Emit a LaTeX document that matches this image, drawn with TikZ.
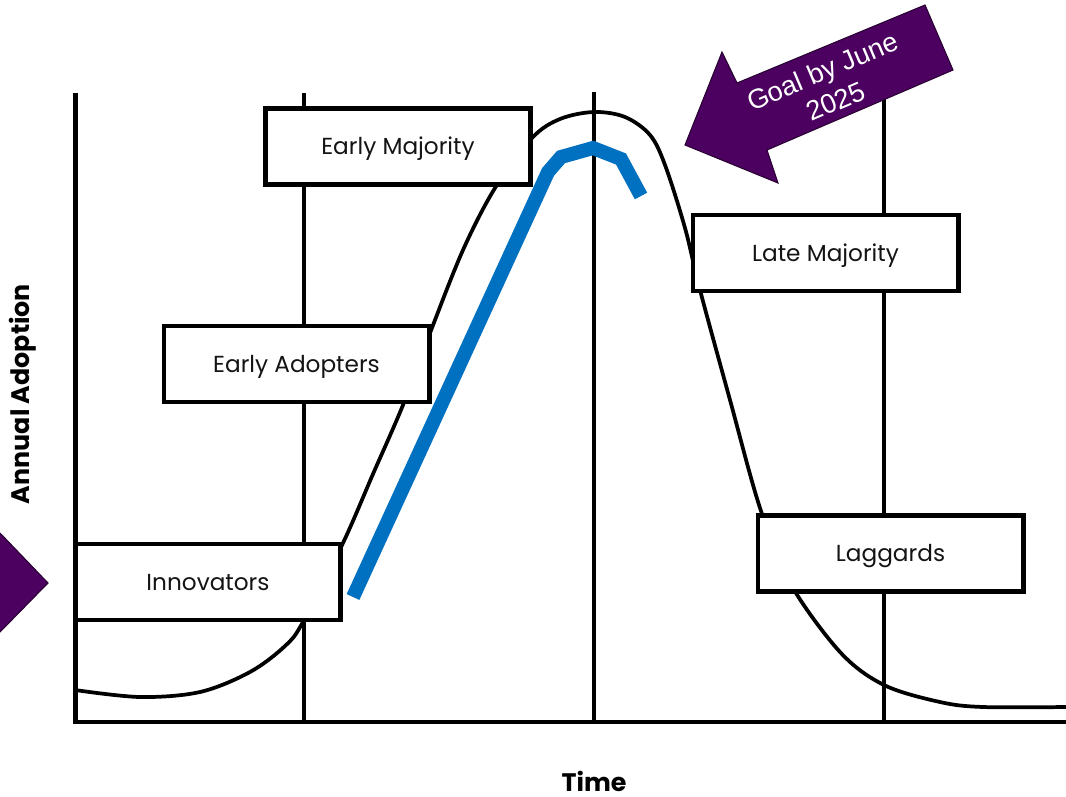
\documentclass[tikz,border=0pt]{standalone}
\usepackage{fontspec}
\setmainfont{Poppins}
\newfontfamily\arialfont{Liberation Sans}
\usepackage{tikz}
\usetikzlibrary{calc,positioning}
\definecolor{goalpurple}{RGB}{76,0,96}
\definecolor{goaledge}{RGB}{40,0,50}
\definecolor{trendblue}{RGB}{0,112,192}
\definecolor{labelgrey}{RGB}{20,20,20}
\tikzstyle{stage}     = [draw=black, line width=3.5pt, fill=white, minimum width=199pt, minimum height=57pt, inner sep=0pt, text height=12.2pt, text depth=0pt, text=labelgrey, font=\fontsize{17.4}{20}\selectfont]
\tikzstyle{gridline}  = [line width=3pt]
\tikzstyle{axisline}  = [line width=3.2pt]
\tikzstyle{bellcurve} = [line width=2.8pt]
\tikzstyle{trend}     = [line width=10.5pt, draw=trendblue]
\tikzstyle{goal}      = [fill=goalpurple, draw=goaledge, line width=0.8pt]
\tikzstyle{axislabel} = [inner sep=0pt, font=\bfseries\fontsize{19}{22}\selectfont]

\begin{document}
\begin{tikzpicture}[x=0.75pt, y=-0.75pt]
        \useasboundingbox (0,0) rectangle (1066,796);
        \draw[gridline] (303.5,93) -- (303.5,722);
        \draw[gridline] (593.5,92) -- (593.5,722);
        \draw[gridline] (884,92) -- (884,722);
        \draw[axisline] (75.5,93) -- (75.5,722) -- (1066,722);

        \draw[bellcurve] plot[smooth, tension=0.55] coordinates {(75,690) (140,697) (200,692) (250,672) (285,646) (303,622) (343,543) (373,474) (403,405) (430,333) (463,250) (495,188) (532,138) (560,119) (594,112) (625,117) (650,135) (665,165) (685,228) (700,290) (730,400) (760,508) (790,583) (840,652) (884,685) (940,702) (983,707) (1066,707)};

        \node[stage] (innovators) at (208,582) {Innovators};
        \node[stage] (adopters) at (296.5,364) {Early Adopters};
        \node[stage] (earlymaj) at (398,146.5) {Early Majority};
        \node[stage] (latemaj) at (825.5,253) {Late Majority};
        \node[stage] (laggards) at (890.5,553.5) {Laggards};

        \draw[trend] (353,597) -- (548,172) -- (561,157) -- (593,148) -- (621,159) -- (641,196);

        \draw[goal] (925,5) -- (953,70) -- (767,150) -- (778,183) -- (685,145) -- (722,52) -- (737,83) -- cycle;
        \node[text=white, rotate=23, align=center, font=\arialfont\fontsize{20.5}{24.5}\selectfont] (goaltext) at (829,86) {Goal by June\\2025};
        \draw[goal] (0,533) -- (48,583) -- (0,632);

        \node[axislabel, rotate=90] (ylabel) at (23,394) {Annual Adoption};
        \node[axislabel] (xlabel) at (594,781) {Time};
    \end{tikzpicture}
\end{document}
